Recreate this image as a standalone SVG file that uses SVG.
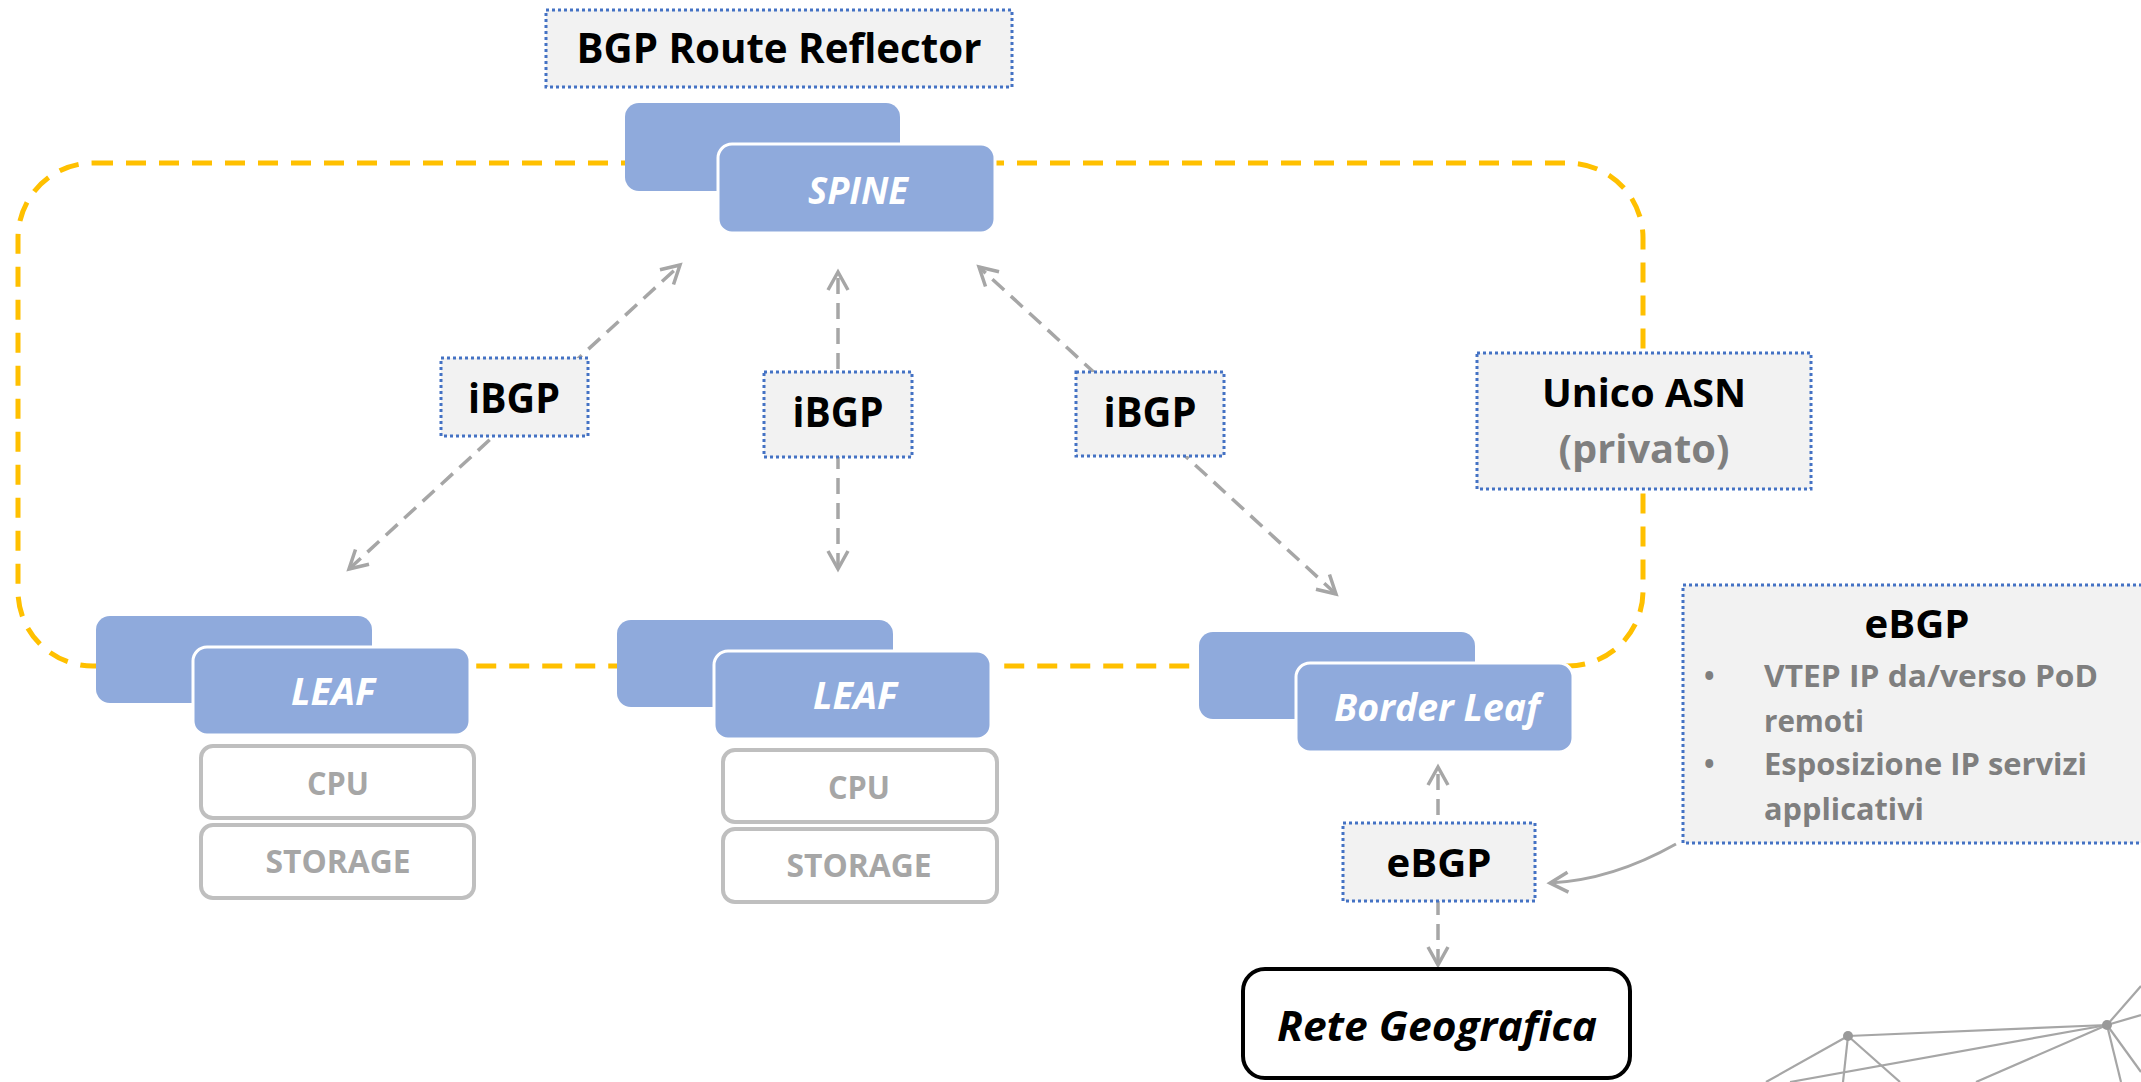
<svg xmlns="http://www.w3.org/2000/svg" width="2141" height="1082" viewBox="0 0 2141 1082">
<style>
text{font-family:"Open Sans",Lato,"Liberation Sans",sans-serif;font-weight:bold}
.lbl{fill:#f2f2f2;stroke:#4472c4;stroke-width:3;stroke-dasharray:3 3}
.nd{fill:#8faadc}
.ndf{fill:#8faadc;stroke:#fff;stroke-width:3}
.res{fill:#fff;stroke:#bfbfbf;stroke-width:4}
.wt{fill:#fff;font-style:italic;text-anchor:middle}
.bk{fill:#000;text-anchor:middle}
.gr{fill:#a6a6a6;text-anchor:middle}
.g7{fill:#7f7f7f}
.conn{fill:none;stroke:#a6a6a6;stroke-width:3.5;stroke-dasharray:16 9;marker-start:url(#ah);marker-end:url(#ah)}
.deco line{stroke:#a6a6a6;stroke-width:2.2}
</style>
<defs>
<marker id="ah" viewBox="-22 -13 26 26" refX="0" refY="0" markerWidth="26" markerHeight="26" markerUnits="userSpaceOnUse" orient="auto-start-reverse">
<path d="M-18,-10 L0,0 L-18,10" fill="none" stroke="#a6a6a6" stroke-width="3.5" stroke-dasharray="none" stroke-linejoin="miter"/>
</marker>
</defs>
<rect width="2141" height="1082" fill="#fff"/>

<g id="decoration" class="deco">
<line x1="1848" y1="1036" x2="2107" y2="1025"/>
<line x1="1848" y1="1036" x2="1766" y2="1082"/>
<line x1="1848" y1="1036" x2="1843" y2="1082"/>
<line x1="1848" y1="1036" x2="1900" y2="1082"/>
<line x1="2107" y1="1025" x2="1790" y2="1082"/>
<line x1="2107" y1="1025" x2="1976" y2="1082"/>
<line x1="2107" y1="1025" x2="2141" y2="986"/>
<line x1="2107" y1="1025" x2="2141" y2="1015"/>
<line x1="2107" y1="1025" x2="2121" y2="1082"/>
<line x1="2107" y1="1025" x2="2141" y2="1072"/>
<circle cx="1848" cy="1036" r="5" fill="#999"/>
<circle cx="2107" cy="1025" r="5" fill="#999"/>
</g>

<g id="asn-boundary">
<path d="M93,163 H1568 A75,75 0 0 1 1643,238 V591 A75,75 0 0 1 1568,666 H93 A75,75 0 0 1 18,591 V238 A75,75 0 0 1 93,163 Z" fill="none" stroke="#ffc000" stroke-width="5" stroke-dasharray="20 13"/>
</g>

<g id="connectors">
<line class="conn" x1="349" y1="569" x2="680" y2="265"/>
<line class="conn" x1="838" y1="569" x2="838" y2="272"/>
<line class="conn" x1="1336" y1="594" x2="979" y2="267"/>
<line class="conn" x1="1438" y1="965" x2="1438" y2="767"/>
<path d="M1676,844 Q1612,880 1550,883" fill="none" stroke="#a6a6a6" stroke-width="3" marker-end="url(#ah)"/>
</g>

<g id="route-reflector">
<rect class="lbl" x="546" y="10" width="466" height="77"/>
<text class="bk" x="779" y="63" font-size="42" textLength="405" lengthAdjust="spacingAndGlyphs">BGP Route Reflector</text>
</g>

<g id="spine">
<rect class="nd" x="625" y="103" width="275" height="88" rx="14"/>
<rect class="ndf" x="718" y="144" width="277" height="89" rx="14"/>
<text class="wt" x="858" y="204" font-size="38" textLength="100" lengthAdjust="spacingAndGlyphs">SPINE</text>
</g>

<g id="leaf1">
<rect class="nd" x="96" y="616" width="276" height="87" rx="14"/>
<rect class="ndf" x="193" y="647" width="277" height="88" rx="14"/>
<text class="wt" x="333" y="705" font-size="37" textLength="84" lengthAdjust="spacingAndGlyphs">LEAF</text>
</g>
<g id="cpu1">
<rect class="res" x="201" y="746" width="273" height="72" rx="12"/>
<text class="gr" x="338" y="795" font-size="33" textLength="62" lengthAdjust="spacingAndGlyphs">CPU</text>
</g>
<g id="storage1">
<rect class="res" x="201" y="825" width="273" height="73" rx="12"/>
<text class="gr" x="338" y="873" font-size="33" textLength="145" lengthAdjust="spacingAndGlyphs">STORAGE</text>
</g>

<g id="leaf2">
<rect class="nd" x="617" y="620" width="276" height="87" rx="14"/>
<rect class="ndf" x="714" y="651" width="277" height="88" rx="14"/>
<text class="wt" x="855" y="709" font-size="37" textLength="84" lengthAdjust="spacingAndGlyphs">LEAF</text>
</g>
<g id="cpu2">
<rect class="res" x="723" y="750" width="274" height="72" rx="12"/>
<text class="gr" x="859" y="799" font-size="33" textLength="62" lengthAdjust="spacingAndGlyphs">CPU</text>
</g>
<g id="storage2">
<rect class="res" x="723" y="829" width="274" height="73" rx="12"/>
<text class="gr" x="859" y="877" font-size="33" textLength="145" lengthAdjust="spacingAndGlyphs">STORAGE</text>
</g>

<g id="border-leaf">
<rect class="nd" x="1199" y="632" width="276" height="87" rx="14"/>
<rect class="ndf" x="1296" y="663" width="277" height="89" rx="14"/>
<text class="wt" x="1437" y="721" font-size="37" textLength="206" lengthAdjust="spacingAndGlyphs">Border Leaf</text>
</g>

<g id="ibgp1">
<rect class="lbl" x="441" y="358" width="147" height="78"/>
<text class="bk" x="514" y="413" font-size="41" textLength="92" lengthAdjust="spacingAndGlyphs">iBGP</text>
</g>
<g id="ibgp2">
<rect class="lbl" x="764" y="372" width="148" height="85"/>
<text class="bk" x="838" y="427" font-size="41" textLength="91" lengthAdjust="spacingAndGlyphs">iBGP</text>
</g>
<g id="ibgp3">
<rect class="lbl" x="1076" y="372" width="148" height="84"/>
<text class="bk" x="1150" y="427" font-size="41" textLength="93" lengthAdjust="spacingAndGlyphs">iBGP</text>
</g>

<g id="unico-asn">
<rect class="lbl" x="1477" y="353" width="334" height="136"/>
<text class="bk" x="1644" y="407" font-size="40" textLength="204" lengthAdjust="spacingAndGlyphs">Unico ASN</text>
<text class="g7" x="1644" y="463" font-size="40" text-anchor="middle" textLength="171" lengthAdjust="spacingAndGlyphs">(privato)</text>
</g>

<g id="ebgp-info">
<rect class="lbl" x="1683" y="585" width="480" height="258"/>
<text class="bk" x="1917" y="638" font-size="40" textLength="105" lengthAdjust="spacingAndGlyphs">eBGP</text>
<text class="g7" x="1704" y="686" font-size="28">•</text>
<text class="g7" x="1764" y="687" font-size="31" textLength="334" lengthAdjust="spacingAndGlyphs">VTEP IP da/verso PoD</text>
<text class="g7" x="1764" y="732" font-size="31" textLength="100" lengthAdjust="spacingAndGlyphs">remoti</text>
<text class="g7" x="1704" y="774" font-size="28">•</text>
<text class="g7" x="1764" y="775" font-size="31" textLength="323" lengthAdjust="spacingAndGlyphs">Esposizione IP servizi</text>
<text class="g7" x="1764" y="820" font-size="31" textLength="160" lengthAdjust="spacingAndGlyphs">applicativi</text>
</g>

<g id="ebgp">
<rect class="lbl" x="1343" y="823" width="192" height="78"/>
<text class="bk" x="1439" y="877" font-size="39" textLength="105" lengthAdjust="spacingAndGlyphs">eBGP</text>
</g>

<g id="rete-geografica">
<rect x="1243" y="969" width="387" height="109" rx="22" fill="#fff" stroke="#000" stroke-width="4"/>
<text class="bk" x="1437" y="1041" font-size="41" font-style="italic" textLength="320" lengthAdjust="spacingAndGlyphs">Rete Geografica</text>
</g>
</svg>
